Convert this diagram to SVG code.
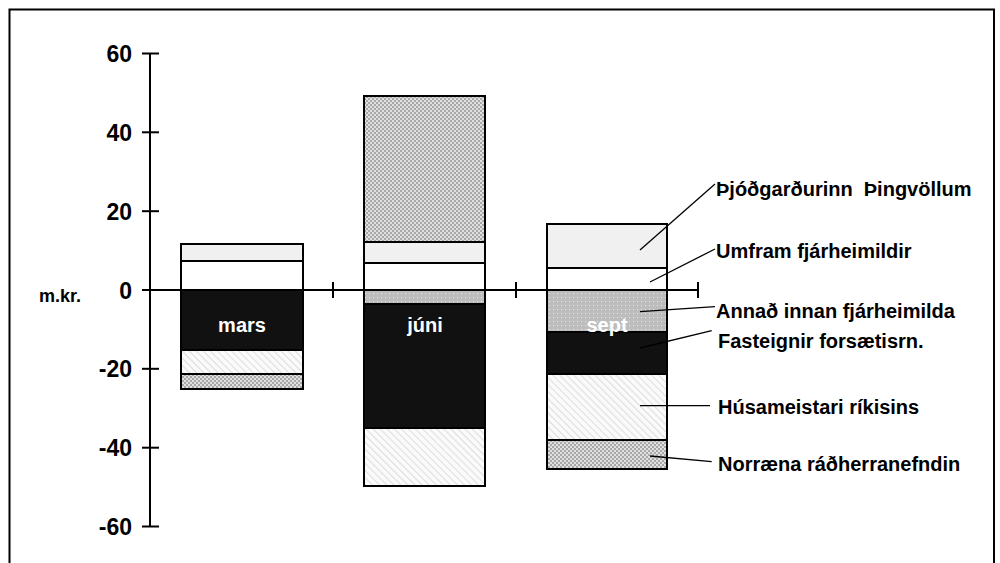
<svg xmlns="http://www.w3.org/2000/svg" width="1000" height="563" viewBox="0 0 1000 563">
<defs>
<pattern id="checker" width="4" height="4" patternUnits="userSpaceOnUse">
<rect width="4" height="4" fill="#a8a8a8"/>
<rect x="0" y="0" width="2" height="2" fill="#e0e0e0"/>
<rect x="2" y="2" width="2" height="2" fill="#e0e0e0"/>
</pattern>
<pattern id="dots" width="4" height="4" patternUnits="userSpaceOnUse">
<rect width="4" height="4" fill="#bdbdbd"/>
<rect x="1" y="1" width="1" height="1" fill="#e6e6e6"/>
</pattern>
<pattern id="hatch" width="5" height="5" patternUnits="userSpaceOnUse" patternTransform="rotate(-45)">
<rect width="5" height="5" fill="#fafafa"/>
<line x1="0" y1="0" x2="0" y2="5" stroke="#d4d4d4" stroke-width="1.5"/>
</pattern>
</defs>
<style>
.seg{stroke:#000;stroke-width:2}
.ax{stroke:#000;stroke-width:2;fill:none}
.lead{stroke:#000;stroke-width:1.3;fill:none}
.num{font-family:"Liberation Sans",Arial,sans-serif;font-weight:bold;font-size:23px;text-anchor:end;fill:#000}
.lbl{font-family:"Liberation Sans",Arial,sans-serif;font-weight:bold;font-size:20px;fill:#000}
.unit{font-family:"Liberation Sans",Arial,sans-serif;font-weight:bold;font-size:18px;fill:#000}
.bar{font-family:"Liberation Sans",Arial,sans-serif;font-weight:bold;font-size:20px;fill:#fff;text-anchor:middle}
</style>
<rect x="0" y="0" width="1000" height="563" fill="#fff"/>
<rect x="9.5" y="9.5" width="984.5" height="600" fill="none" stroke="#000" stroke-width="2"/>

<g id="bar-mars">
<rect class="seg" x="181" y="244" width="122" height="17" fill="#f0f0f0"/>
<rect class="seg" x="181" y="261" width="122" height="29" fill="#fff"/>
<rect class="seg" x="181" y="290" width="122" height="60" fill="#111"/>
<rect class="seg" x="181" y="350" width="122" height="24" fill="url(#hatch)"/>
<rect class="seg" x="181" y="374" width="122" height="15" fill="url(#checker)"/>
<text class="bar" x="242" y="332">mars</text>
</g>

<g id="bar-juni">
<rect class="seg" x="364" y="96" width="121" height="146" fill="url(#checker)"/>
<rect class="seg" x="364" y="242" width="121" height="21" fill="#f0f0f0"/>
<rect class="seg" x="364" y="263" width="121" height="27" fill="#fff"/>
<rect class="seg" x="364" y="290" width="121" height="14" fill="url(#dots)"/>
<rect class="seg" x="364" y="304" width="121" height="124" fill="#111"/>
<rect class="seg" x="364" y="428" width="121" height="58" fill="url(#hatch)"/>
<text class="bar" x="425" y="332">júni</text>
</g>

<g id="bar-sept">
<rect class="seg" x="547" y="224" width="120" height="44" fill="#f0f0f0"/>
<rect class="seg" x="547" y="268" width="120" height="22" fill="#fff"/>
<rect class="seg" x="547" y="290" width="120" height="42" fill="url(#dots)"/>
<rect class="seg" x="547" y="332" width="120" height="42" fill="#111"/>
<rect class="seg" x="547" y="374" width="120" height="66" fill="url(#hatch)"/>
<rect class="seg" x="547" y="440" width="120" height="29" fill="url(#checker)"/>
<text class="bar" x="607" y="332">sept</text>
</g>

<g id="axes">
<line class="ax" x1="150" y1="53.5" x2="150" y2="526.5"/>
<line class="ax" x1="142" y1="53.5" x2="159" y2="53.5"/>
<line class="ax" x1="142" y1="132.3" x2="159" y2="132.3"/>
<line class="ax" x1="142" y1="211.2" x2="159" y2="211.2"/>
<line class="ax" x1="142" y1="368.8" x2="159" y2="368.8"/>
<line class="ax" x1="142" y1="447.7" x2="159" y2="447.7"/>
<line class="ax" x1="142" y1="526.5" x2="159" y2="526.5"/>
<line class="ax" x1="142" y1="290" x2="698" y2="290"/>
<line class="ax" x1="333" y1="282" x2="333" y2="298"/>
<line class="ax" x1="516" y1="282" x2="516" y2="298"/>
<line class="ax" x1="698" y1="282" x2="698" y2="298"/>
<text class="num" x="132" y="62">60</text>
<text class="num" x="132" y="140.8">40</text>
<text class="num" x="132" y="219.7">20</text>
<text class="num" x="132" y="298.5">0</text>
<text class="num" x="132" y="377.3">-20</text>
<text class="num" x="132" y="456.2">-40</text>
<text class="num" x="132" y="535">-60</text>
<text class="unit" x="39" y="302">m.kr.</text>
</g>

<g id="connectors">
<line class="lead" x1="640" y1="250" x2="715" y2="184"/>
<line class="lead" x1="650" y1="282" x2="715" y2="249"/>
<line class="lead" x1="640" y1="311.7" x2="715" y2="306.7"/>
<line class="lead" x1="640" y1="348" x2="711.7" y2="330.7"/>
<line class="lead" x1="640" y1="405.7" x2="710" y2="405.7"/>
<line class="lead" x1="650" y1="456" x2="711.7" y2="461.7"/>
</g>

<g id="legend">
<text class="lbl" x="716" y="196" xml:space="preserve">Þjóðgarðurinn  Þingvöllum</text>
<text class="lbl" x="716" y="258">Umfram fjárheimildir</text>
<text class="lbl" x="716" y="318">Annað innan fjárheimilda</text>
<text class="lbl" x="718" y="348">Fasteignir forsætisrn.</text>
<text class="lbl" x="718" y="414">Húsameistari ríkisins</text>
<text class="lbl" x="718" y="471">Norræna ráðherranefndin</text>
</g>
</svg>
